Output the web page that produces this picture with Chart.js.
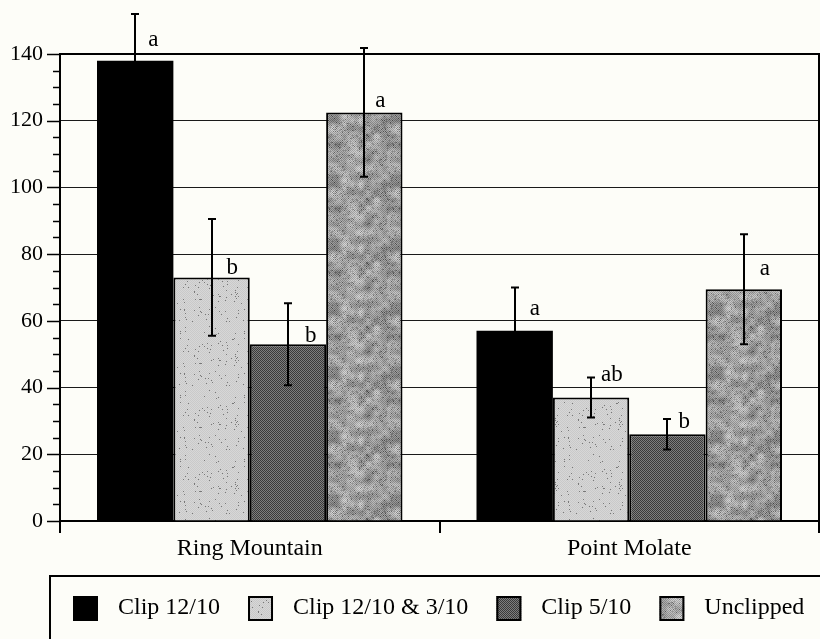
<!DOCTYPE html>
<html>
<head>
<meta charset="utf-8">
<title>Clipping treatments</title>
<script src="https://cdn.jsdelivr.net/npm/chart.js@4/dist/chart.umd.min.js"></script>
<style>
  html, body { margin: 0; padding: 0; background: #fdfdf8; }
  canvas { display: block; }
</style>
</head>
<body>
<canvas id="chart" width="820" height="639"></canvas>
<script>
// Sites and treatments
const categories = ['Ring Mountain', 'Point Molate'];
const seriesNames = ['Clip 12/10', 'Clip 12/10 & 3/10', 'Clip 5/10', 'Unclipped'];

// Mean values per site
const clip1210 = [138, 57];
const clip1210and310 = [73, 37];
const clip510 = [53, 26];
const unclipped = [122.5, 69.5];

// Error bar half-widths per site
const err1210 = [14, 13];
const err1210and310 = [17.5, 6];
const err510 = [12.3, 4.6];
const errUnclipped = [19.3, 16.5];

// Significance letters per site
const letters1210 = ['a', 'a'];
const letters1210and310 = ['b', 'ab'];
const letters510 = ['b', 'b'];
const lettersUnclipped = ['a', 'a'];

// Labelled y ticks
const yMajorTicks = [0, 20, 40, 60, 80, 100, 120, 140];

const SERIF = '"Liberation Serif", "Times New Roman", serif';
const BG = '#fdfdf8';

// ---- fill textures -------------------------------------------------------
function hash(x, y, s) {
  const v = Math.sin(x * 12.9898 + y * 78.233 + s * 37.719) * 43758.5453;
  return v - Math.floor(v);
}
function makeTexture(size, shade) {
  const c = document.createElement('canvas');
  c.width = size; c.height = size;
  const g = c.getContext('2d');
  const img = g.createImageData(size, size);
  for (let y = 0; y < size; y++) {
    for (let x = 0; x < size; x++) {
      const v = Math.max(0, Math.min(255, Math.round(shade(x, y))));
      const i = (y * size + x) * 4;
      img.data[i] = v; img.data[i + 1] = v; img.data[i + 2] = v; img.data[i + 3] = 255;
    }
  }
  g.putImageData(img, 0, 0);
  return g.createPattern(c, 'repeat');
}
// smooth tileable value noise for the mottled fill
function smoothNoise(x, y, cell, cells, seed) {
  const gx = x / cell, gy = y / cell;
  const x0 = Math.floor(gx), y0 = Math.floor(gy);
  const fx = gx - x0, fy = gy - y0;
  const sx = fx * fx * (3 - 2 * fx), sy = fy * fy * (3 - 2 * fy);
  const w = (a) => ((a % cells) + cells) % cells;
  const n00 = hash(w(x0), w(y0), seed), n10 = hash(w(x0 + 1), w(y0), seed);
  const n01 = hash(w(x0), w(y0 + 1), seed), n11 = hash(w(x0 + 1), w(y0 + 1), seed);
  const a = n00 + (n10 - n00) * sx, b = n01 + (n11 - n01) * sx;
  return a + (b - a) * sy;
}

const texLight = makeTexture(64, (x, y) => {
  let v = ((x + y) % 2 === 0) ? 201 : 215;
  if (hash(x, y, 1) > 0.975) v = 120;
  return v;
});
const texDark = makeTexture(8, (x, y) => ((x + y) % 2 === 0) ? 58 : 126);
const texMottled = makeTexture(64, (x, y) => {
  const blob = smoothNoise(x, y, 8, 8, 3) * 0.65 + smoothNoise(x, y, 4, 16, 5) * 0.35;
  let v = 162 + (blob - 0.5) * 90;
  v += ((x + y) % 2 === 0) ? -22 : 18;
  if (hash(x, y, 7) > 0.9) v -= 45;
  return v;
});

const fills = ['#000000', texLight, texDark, texMottled];

// ---- plugins -------------------------------------------------------------
const backgroundPlugin = {
  id: 'paper',
  beforeDraw(chart) {
    const ctx = chart.ctx;
    ctx.save();
    ctx.fillStyle = BG;
    ctx.fillRect(0, 0, chart.width, chart.height);
    ctx.restore();
  }
};

// plot frame plus the major/minor tick marks of the value axis
const framePlugin = {
  id: 'frame',
  beforeDatasetsDraw(chart) {
    const { ctx, chartArea: a, scales: { y } } = chart;
    ctx.save();
    ctx.strokeStyle = '#000';
    ctx.lineWidth = 2;
    ctx.beginPath();
    ctx.moveTo(a.left, a.top);
    ctx.lineTo(a.right, a.top);
    ctx.lineTo(a.right, a.bottom);
    ctx.stroke();
    ctx.lineWidth = 1.5;
    for (let v = y.min; v <= y.max; v += 5) {
      const py = Math.round(y.getPixelForValue(v)) + 0.5;
      const len = yMajorTicks.includes(v) ? 13 : 7;
      ctx.beginPath();
      ctx.moveTo(a.left - len, py);
      ctx.lineTo(a.left, py);
      ctx.stroke();
    }
    ctx.restore();
  }
};

const errorBarPlugin = {
  id: 'errorBars',
  afterDatasetsDraw(chart) {
    const { ctx, scales: { y } } = chart;
    ctx.save();
    ctx.strokeStyle = '#000';
    ctx.lineWidth = 2;
    chart.data.datasets.forEach((ds, i) => {
      const meta = chart.getDatasetMeta(i);
      meta.data.forEach((bar, j) => {
        const v = ds.data[j], e = ds.errors[j];
        const top = y.getPixelForValue(v + e);
        const bot = y.getPixelForValue(v - e);
        const x = Math.round(bar.x);
        ctx.beginPath();
        ctx.moveTo(x, top); ctx.lineTo(x, bot);
        ctx.moveTo(x - 4, top); ctx.lineTo(x + 4, top);
        ctx.moveTo(x - 4, bot); ctx.lineTo(x + 4, bot);
        ctx.stroke();
      });
    });
    ctx.restore();
  }
};

const letterPlugin = {
  id: 'letters',
  afterDatasetsDraw(chart, args, opts) {
    const { ctx } = chart;
    ctx.save();
    ctx.fillStyle = '#000';
    ctx.font = '23px ' + SERIF;
    ctx.textAlign = 'left';
    ctx.textBaseline = 'alphabetic';
    chart.data.datasets.forEach((ds, i) => {
      const meta = chart.getDatasetMeta(i);
      meta.data.forEach((bar, j) => {
        ctx.fillText(ds.letters[j], bar.x + opts.dx[i][j], bar.y - opts.lift[i][j]);
      });
    });
    ctx.restore();
  }
};

// framed legend row under the plot
const boxLegendPlugin = {
  id: 'boxLegend',
  afterDraw(chart, args, opts) {
    const { ctx } = chart;
    ctx.save();
    ctx.strokeStyle = '#000';
    ctx.lineWidth = 2;
    ctx.strokeRect(opts.left, opts.top, chart.width + 20, 120);
    ctx.font = opts.fontSize + 'px ' + SERIF;
    ctx.textBaseline = 'alphabetic';
    let x = opts.startX;
    chart.data.datasets.forEach((ds) => {
      const s = opts.box;
      ctx.fillStyle = ds.backgroundColor;
      ctx.fillRect(x, opts.boxTop, s, s);
      ctx.lineWidth = 2;
      ctx.strokeRect(x + 1, opts.boxTop + 1, s - 2, s - 2);
      x += s + opts.boxGap;
      ctx.fillStyle = '#000';
      ctx.fillText(ds.label, x, opts.baseline);
      x += ctx.measureText(ds.label).width + opts.itemGap;
    });
    ctx.restore();
  }
};

// ---- chart ---------------------------------------------------------------
const seriesValues = [clip1210, clip1210and310, clip510, unclipped];
const seriesErrors = [err1210, err1210and310, err510, errUnclipped];
const seriesLetters = [letters1210, letters1210and310, letters510, lettersUnclipped];

const datasets = seriesNames.map((name, i) => ({
  label: name,
  data: seriesValues[i],
  errors: seriesErrors[i],
  letters: seriesLetters[i],
  backgroundColor: fills[i],
  borderColor: '#000',
  borderWidth: i === 0 ? 0 : 2,
  categoryPercentage: 0.805,
  barPercentage: 1.0
}));

new Chart(document.getElementById('chart'), {
  type: 'bar',
  data: { labels: categories, datasets },
  plugins: [backgroundPlugin, framePlugin, errorBarPlugin, letterPlugin, boxLegendPlugin],
  options: {
    responsive: false,
    animation: false,
    layout: { padding: { top: 54, right: 1, left: 0, bottom: 0 } },
    plugins: {
      legend: { display: false },
      tooltip: { enabled: false },
      letters: {
        dx: [[13, 15], [15, 10], [17, 11], [11, 16]],
        lift: [[15, 16], [3, 17], [2, 6], [5, 14]]
      },
      boxLegend: {
        left: 50, top: 576, startX: 73, boxTop: 596, box: 25,
        boxGap: 20, itemGap: 28, baseline: 614, fontSize: 24
      }
    },
    scales: {
      x: {
        offset: true,
        grid: {
          display: true, offset: true, drawOnChartArea: false, drawTicks: true,
          tickLength: 12, color: '#000', lineWidth: 2
        },
        border: { display: true, color: '#000', width: 2 },
        ticks: { color: '#000', padding: 1, font: { family: SERIF, size: 24 } },
        afterFit(s) { s.height = 118; }
      },
      y: {
        min: 0, max: 140,
        grid: {
          drawTicks: false,
          lineWidth: 1,
          color: (c) => (c.tick && c.tick.value % 20 === 0 && c.tick.value > 0 && c.tick.value < 140) ? '#1a1a1a' : 'rgba(0,0,0,0)'
        },
        border: { display: true, color: '#000', width: 2 },
        ticks: {
          stepSize: 5, autoSkip: false, padding: 17, color: '#000',
          font: { family: SERIF, size: 22 },
          callback: (v) => yMajorTicks.includes(v) ? String(v) : ''
        },
        afterFit(s) { s.width = 60; }
      }
    }
  }
});
</script>
</body>
</html>
